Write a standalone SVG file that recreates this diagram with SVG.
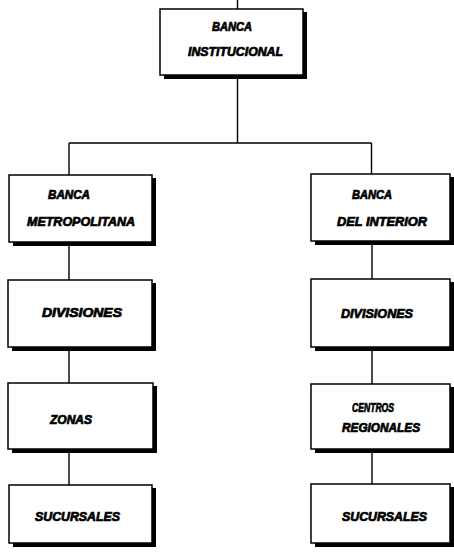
<svg xmlns="http://www.w3.org/2000/svg" width="454" height="556" viewBox="0 0 454 556">
<style>
.box{fill:#fff;stroke:#000;stroke-width:1.5}
.sh{fill:#000}
.t{font-family:"Liberation Sans",Arial,sans-serif;font-weight:bold;font-style:italic;font-size:12px;fill:#000;stroke:#000;stroke-width:0.7}
.c{fill:none;stroke:#000;stroke-width:1.4}
</style>
<rect width="454" height="556" fill="#fff"/>
<g id="connectors">
<path class="c" d="M237.5 0V9M237.5 79V143M69 143H371.5M69 143V175M371.5 143V174"/>
<path class="c" d="M69 246V280M69 351V383M69 453V485"/>
<path class="c" d="M372 245V279M372 351V384M372 453V484"/>
</g>
<g id="banca-institucional">
<rect class="sh" x="164" y="12" width="143" height="67"/>
<rect class="box" x="160" y="9" width="143" height="66"/>
<text class="t" x="212" y="31" textLength="40" lengthAdjust="spacingAndGlyphs">BANCA</text>
<text class="t" x="188" y="56" textLength="95" lengthAdjust="spacingAndGlyphs">INSTITUCIONAL</text>
</g>
<g id="banca-metropolitana">
<rect class="sh" x="13" y="178" width="143" height="68"/>
<rect class="box" x="9" y="175" width="143" height="67"/>
<text class="t" x="48" y="199" textLength="42" lengthAdjust="spacingAndGlyphs">BANCA</text>
<text class="t" x="27" y="226" textLength="108" lengthAdjust="spacingAndGlyphs">METROPOLITANA</text>
</g>
<g id="banca-interior">
<rect class="sh" x="315" y="177" width="139" height="68"/>
<rect class="box" x="311" y="174" width="139" height="67"/>
<text class="t" x="352" y="199" textLength="40" lengthAdjust="spacingAndGlyphs">BANCA</text>
<text class="t" x="337" y="226" textLength="90" lengthAdjust="spacingAndGlyphs">DEL INTERIOR</text>
</g>
<g id="divisiones-izq">
<rect class="sh" x="12" y="283" width="144" height="68"/>
<rect class="box" x="8" y="280" width="144" height="67"/>
<text class="t" x="42" y="317" textLength="80" lengthAdjust="spacingAndGlyphs">DIVISIONES</text>
</g>
<g id="divisiones-der">
<rect class="sh" x="315" y="282" width="139" height="69"/>
<rect class="box" x="311" y="279" width="139" height="68"/>
<text class="t" x="341" y="318" textLength="72" lengthAdjust="spacingAndGlyphs">DIVISIONES</text>
</g>
<g id="zonas">
<rect class="sh" x="12" y="386" width="145" height="67"/>
<rect class="box" x="8" y="383" width="145" height="66"/>
<text class="t" x="50" y="424" textLength="42" lengthAdjust="spacingAndGlyphs">ZONAS</text>
</g>
<g id="centros-regionales">
<rect class="sh" x="315" y="387" width="139" height="66"/>
<rect class="box" x="311" y="384" width="139" height="65"/>
<text class="t" x="352" y="412" textLength="42" lengthAdjust="spacingAndGlyphs">CENTROS</text>
<text class="t" x="342" y="432" textLength="78" lengthAdjust="spacingAndGlyphs">REGIONALES</text>
</g>
<g id="sucursales-izq">
<rect class="sh" x="13" y="488" width="143" height="59"/>
<rect class="box" x="9" y="485" width="143" height="58"/>
<text class="t" x="35" y="521" textLength="85" lengthAdjust="spacingAndGlyphs">SUCURSALES</text>
</g>
<g id="sucursales-der">
<rect class="sh" x="315" y="487" width="139" height="60"/>
<rect class="box" x="311" y="484" width="139" height="59"/>
<text class="t" x="342" y="521" textLength="85" lengthAdjust="spacingAndGlyphs">SUCURSALES</text>
</g>
</svg>
